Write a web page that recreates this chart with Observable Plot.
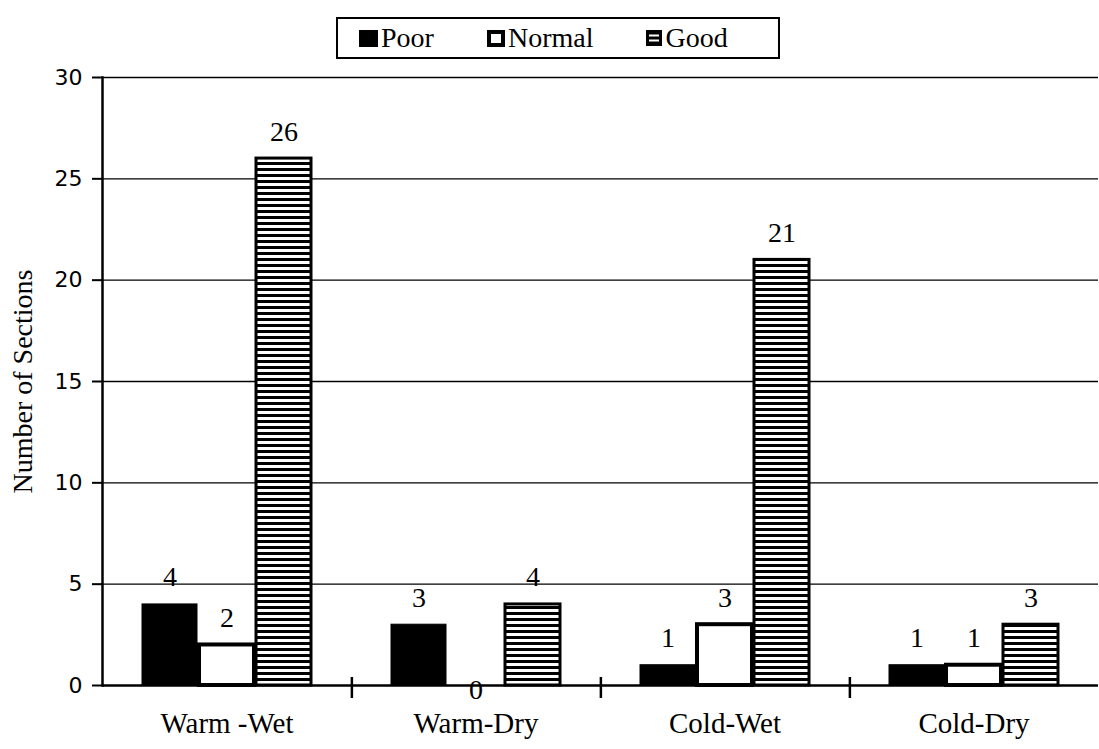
<!DOCTYPE html>
<html><head><meta charset="utf-8">
<script src="https://cdn.jsdelivr.net/npm/d3@7"></script>
<script src="https://cdn.jsdelivr.net/npm/@observablehq/plot@0.6"></script>
<style>
body{margin:0;background:#fff;}
#wrap{position:relative;width:1099px;height:749px;}
#legend{position:absolute;left:336px;top:17px;width:444px;height:42px;border:2.5px solid #000;background:#fff;
  font-family:"Liberation Serif";font-size:28px;display:flex;align-items:center;gap:53px;padding-left:21px;box-sizing:border-box;z-index:2;}
#legend .item{display:flex;align-items:center;}
#legend svg{margin-right:3px;}
#chart{position:absolute;left:0;top:0;}
</style></head><body>
<div id="wrap"><div id="legend"></div><div id="chart"></div></div>
<script>
const categories = ["Warm -Wet", "Warm-Dry", "Cold-Wet", "Cold-Dry"];
const series = ["Poor", "Normal", "Good"];
const poor = [4, 3, 1, 1];
const normal = [2, 0, 3, 1];
const good = [26, 4, 21, 3];
const yTicks = [0, 5, 10, 15, 20, 25, 30];

const valuesBySeries = {Poor: poor, Normal: normal, Good: good};
const rows = [];
categories.forEach((c, i) => series.forEach(s => rows.push({cat: c, series: s, value: valuesBySeries[s][i]})));

const W = 1099, H = 749, mL = 100, mR = 0, mT = 77, mB = 64;
const step = (W - mL - mR) / categories.length;
const barStyle = {
  Poor: {fill: "#000", strokeWidth: 1},
  Normal: {fill: "#fff", strokeWidth: 4},
  Good: {fill: "url(#stripes)", strokeWidth: 3}
};

const barMarks = series.map(s => Plot.barY(rows.filter(d => d.series === s && d.value > 0), {
  fx: "cat", x: "series", y: "value", fill: barStyle[s].fill, stroke: "#000", strokeWidth: barStyle[s].strokeWidth
}));

const chart = Plot.plot({
  width: W, height: H, marginLeft: mL, marginRight: mR, marginTop: mT, marginBottom: mB,
  style: {background: "transparent", color: "#000", overflow: "visible"},
  fx: {domain: categories, padding: 0},
  x: {domain: series, paddingInner: 0.03, paddingOuter: 0.685, axis: null},
  y: {domain: [0, 30]},
  marks: [
    Plot.gridY(yTicks.slice(1), {stroke: "#000", strokeOpacity: 1, strokeWidth: 1.3}),
    ...barMarks,
    Plot.ruleY([0], {stroke: "#000", strokeWidth: 2.5}),
    Plot.frame({anchor: "left", fx: () => categories[0], stroke: "#000", strokeWidth: 2.5}),
    Plot.axisY({ticks: yTicks, tickSize: 10, tickPadding: 10, fontSize: 22, fontFamily: "DejaVu Sans",
      label: "Number of Sections", labelAnchor: "center", labelOffset: 90, labelArrow: "none", strokeWidth: 2}),
    Plot.axisFx({anchor: "bottom", tickSize: 0, tickPadding: 27, fontSize: 29, fontFamily: "Liberation Serif", label: null}),
    Plot.axisFx({anchor: "bottom", ticks: categories.slice(0, categories.length - 1), tickSize: 21, dy: -8, dx: step / 2,
      tickFormat: () => "", label: null, strokeWidth: 2.5}),
    Plot.text(rows.filter(d => d.value > 0), {fx: "cat", x: "series", y: "value", text: d => String(d.value),
      lineAnchor: "bottom", dy: -18, fontSize: 28, fontFamily: "Liberation Serif"}),
    Plot.text(rows.filter(d => d.value === 0), {fx: "cat", x: "series", y: "value", text: d => String(d.value),
      lineAnchor: "middle", dy: 5, fontSize: 28, fontFamily: "Liberation Serif"})
  ]
});

const ns = "http://www.w3.org/2000/svg";
const defs = document.createElementNS(ns, "defs");
defs.innerHTML = '<pattern id="stripes" width="8" height="6" patternUnits="userSpaceOnUse"><rect width="8" height="6" fill="#fff"/><rect width="8" height="3" fill="#000"/></pattern>';
chart.prepend(defs);
const lab = chart.querySelector('g[aria-label="y-axis label"]');
if (lab) { lab.setAttribute("font-family", "Liberation Serif"); lab.setAttribute("font-size", "28"); }
document.getElementById("chart").appendChild(chart);

// legend
const swatch = {
  Poor: '<svg width="19" height="17"><rect width="19" height="17" fill="#000"/></svg>',
  Normal: '<svg width="18" height="17"><rect width="18" height="17" fill="#000"/><rect x="4" y="4" width="10" height="9" fill="#fff"/></svg>',
  Good: '<svg width="16" height="16"><rect width="16" height="16" fill="#000"/><rect x="3" y="4.5" width="10" height="2" fill="#fff"/><rect x="3" y="9.5" width="10" height="2" fill="#fff"/></svg>'
};
const legend = document.getElementById("legend");
series.forEach(s => {
  const it = document.createElement("div");
  it.className = "item";
  it.innerHTML = swatch[s] + '<span>' + s + '</span>';
  legend.appendChild(it);
});
</script>
</body></html>
